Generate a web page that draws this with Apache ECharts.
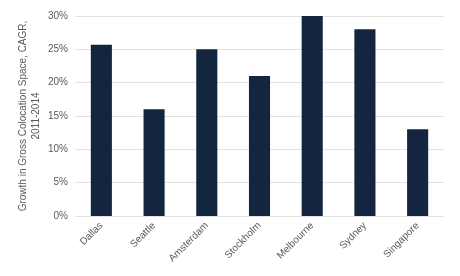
<!DOCTYPE html>
<html><head><meta charset="utf-8">
<script src="https://cdn.jsdelivr.net/npm/echarts@6/dist/echarts.min.js"></script>
<style>html,body{margin:0;padding:0;background:#fff}#c{width:460px;height:276px}</style>
</head><body><div id="c"></div>
<script>
const categories = ["Dallas","Seattle","Amsterdam","Stockholm","Melbourne","Sydney","Singapore"];
const values = [25.7, 16, 25, 21, 30, 28, 13];
const chart = echarts.init(document.getElementById('c'));
chart.setOption({
  animation:false,
  grid:{left:75,right:16,top:16,bottom:60},
  xAxis:{type:'category',data:categories,
    axisLine:{show:false},axisTick:{show:false},
    axisLabel:{rotate:45,color:'#595959',fontSize:10,fontFamily:'Liberation Sans, Arial',margin:8}},
  yAxis:{type:'value',min:0,max:30,interval:5,
    name:'Growth in Gross Colocation Space, CAGR,\n2011-2014',nameLocation:'middle',nameGap:32,nameRotate:90,
    nameMoveOverlap:false,
    nameTextStyle:{color:'#595959',fontSize:10,fontFamily:'Liberation Sans, Arial',lineHeight:13},
    axisLabel:{formatter:'{value}%',color:'#595959',fontSize:10,fontFamily:'Liberation Sans, Arial',margin:7},
    splitLine:{lineStyle:{color:'#e2e2e2'}},axisLine:{show:false},axisTick:{show:false}},
  series:[{type:'bar',data:values,barWidth:'40%',itemStyle:{color:'#14263f'}}]
});
</script></body></html>
